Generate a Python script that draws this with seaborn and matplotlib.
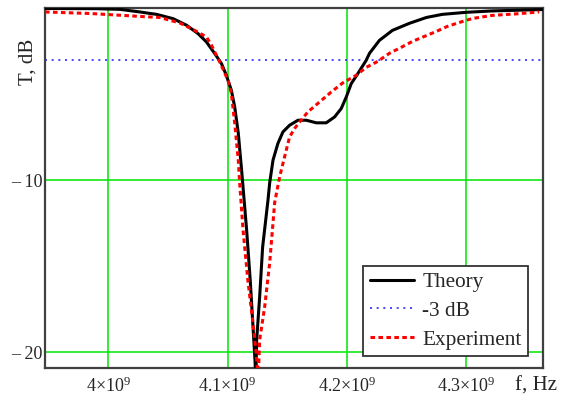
import numpy as np
import pandas as pd
import matplotlib
matplotlib.use('Agg')
import matplotlib.pyplot as plt
import seaborn as sns

# frequency in GHz, transmission in dB
theory_f = [3.947, 3.99, 4.01, 4.0265, 4.0405, 4.0544, 4.0656, 4.0753, 4.0823, 4.0893,
            4.0949, 4.0990, 4.1032, 4.1060, 4.109, 4.112, 4.116, 4.119, 4.121, 4.123,
            4.1237, 4.1244, 4.1269, 4.1294, 4.1339, 4.1353, 4.1381, 4.1422, 4.1464, 4.1520,
            4.1590, 4.1660, 4.1744, 4.1827, 4.1897, 4.1953, 4.1995, 4.2037, 4.2092, 4.2162,
            4.219, 4.2273, 4.2382, 4.2524, 4.2667, 4.2800, 4.3001, 4.3219, 4.3637]
theory_T = [-0.03, -0.04, -0.08, -0.23, -0.37, -0.62, -1.0, -1.49, -1.97, -2.65,
            -3.23, -3.91, -4.78, -5.75, -7.27, -9.59, -12.90, -15.80, -18.12, -20.45,
            -21.6, -19.29, -16.79, -13.89, -11.16, -10.17, -8.84, -7.87, -7.20, -6.81,
            -6.52, -6.52, -6.67, -6.67, -6.33, -5.84, -5.17, -4.39, -3.81, -3.04,
            -2.63, -1.88, -1.30, -0.89, -0.55, -0.37, -0.25, -0.17, -0.09]

exp_f = [3.947, 3.985, 4.0293, 4.0432, 4.0600, 4.0708, 4.0823, 4.0865, 4.0934, 4.1004,
         4.1032, 4.106, 4.109, 4.110, 4.113, 4.117, 4.121, 4.124, 4.1257, 4.1269,
         4.1311, 4.1353, 4.1395, 4.1437, 4.1478, 4.1520, 4.1562, 4.1604, 4.1673, 4.1771,
         4.1869, 4.1966, 4.2078, 4.2162, 4.2259, 4.2357, 4.2457, 4.2550, 4.2650, 4.2750,
         4.2842, 4.2943, 4.3051, 4.3219, 4.3420, 4.3612]
exp_T = [-0.23, -0.32, -0.50, -0.55, -0.87, -1.24, -1.68, -2.16, -3.13, -4.20,
         -4.95, -6.69, -8.84, -10.0, -12.90, -15.80, -18.12, -20.04, -21.6, -19.29,
         -17.37, -14.82, -11.3, -9.8, -8.65, -7.49, -7.0, -6.62, -6.04, -5.46,
         -4.88, -4.35, -3.91, -3.45, -3.10, -2.63, -2.28, -1.94, -1.65, -1.36,
         -1.07, -0.84, -0.61, -0.43, -0.34, -0.23]

level_3db = -3
xticks = [4.0e9, 4.1e9, 4.2e9, 4.3e9]
xtick_labels = [r'$\mathregular{4{\times}10^{9}}$', r'$\mathregular{4.1{\times}10^{9}}$',
                r'$\mathregular{4.2{\times}10^{9}}$', r'$\mathregular{4.3{\times}10^{9}}$']
yticks = [-10, -20]
ytick_labels = ['\u2013 10', '\u2013 20']

theory = pd.DataFrame({'f': np.array(theory_f) * 1e9, 'T': theory_T})
exper = pd.DataFrame({'f': np.array(exp_f) * 1e9, 'T': exp_T})

sns.set_style('white')
plt.rcParams['font.family'] = ['Liberation Serif', 'DejaVu Serif']
plt.rcParams['mathtext.fontset'] = 'custom'
plt.rcParams['mathtext.rm'] = 'Liberation Serif'
plt.rcParams['mathtext.it'] = 'Liberation Serif'

fig = plt.figure(figsize=(5.63, 4.05), dpi=100)
ax = fig.add_axes([45/563, 1 - 368.3/405, 498/563, 360.3/405])

sns.lineplot(data=theory, x='f', y='T', ax=ax, color='black', lw=2.2,
             estimator=None, sort=False, label='Theory', zorder=3)
ax.axhline(level_3db, color='#2a2aff', lw=1.2, linestyle=(0, (1.2, 2.8)),
           label='-3 dB', zorder=2)
sns.lineplot(data=exper, x='f', y='T', ax=ax, color='#ff0000', lw=2.2,
             linestyle=(0, (1.5, 1.1)), estimator=None, sort=False,
             label='Experiment', zorder=4)

ax.set_xlim(3.947e9, 4.3644e9)
ax.set_ylim(-20.93, 0)
ax.set_xticks(xticks)
ax.set_xticklabels(xtick_labels, fontsize=13)
ax.set_yticks(yticks)
ax.set_yticklabels(ytick_labels, fontsize=13)
ax.tick_params(axis='x', length=0, pad=6)
ax.tick_params(axis='y', length=0, pad=2)
ax.grid(True, color='#00e600', lw=1.1)
ax.set_axisbelow(True)
for s in ax.spines.values():
    s.set_color('#404040')
    s.set_linewidth(1.6)
ax.set_xlabel('')
ax.set_ylabel('')

leg = ax.legend(loc='lower right', bbox_to_anchor=(0.970, 0.034), borderaxespad=0,
                fontsize=15.3, fancybox=False, framealpha=1, edgecolor='#333333',
                handlelength=2.1, handletextpad=0.38, labelspacing=0.42, borderpad=0.3)
leg.get_frame().set_linewidth(1.3)

fig.text(28/563, 1 - 62/405, 'T, dB', rotation=90, fontsize=15, ha='center', va='center')
fig.text(536/563, 1 - 386/405, 'f, Hz', fontsize=15, ha='center', va='center')

fig.savefig('out.png', dpi=100)
